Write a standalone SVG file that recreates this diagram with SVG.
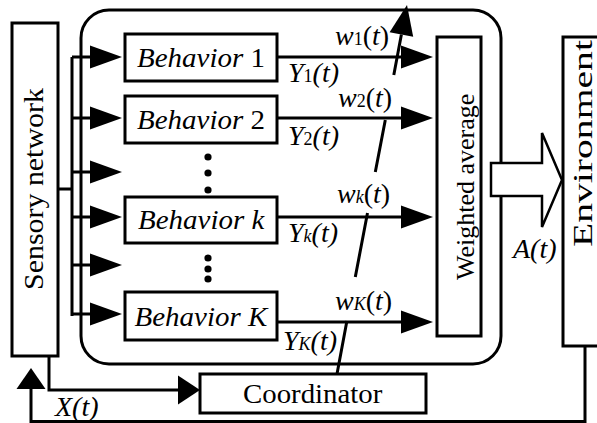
<svg xmlns="http://www.w3.org/2000/svg" width="597" height="423" viewBox="0 0 597 423">
  <defs>
    <!-- long thin arrowhead used on behaviour inputs/outputs (tip at origin, pointing right) -->
    <polygon id="headR" points="0,0 -32,-11.5 -32,11.5" fill="#000"/>
    <!-- short wide arrowhead (tip at origin, pointing right) -->
    <polygon id="headW" points="0,0 -22,-14.5 -22,14.5" fill="#000"/>
  </defs>

  <rect width="597" height="423" fill="#fff"/>

  <g font-family="Liberation Serif" font-size="28" fill="#000">
    <!-- controller enclosure -->
    <g id="controller">
      <rect x="81" y="10" width="420" height="354" rx="28" ry="28" fill="none" stroke="#000" stroke-width="3"/>
    </g>

    <g id="sensory-network">
      <rect x="12" y="23" width="46" height="333" fill="#fff" stroke="#000" stroke-width="3"/>
      <text font-family="Liberation Serif" font-size="28" transform="translate(43,290) rotate(-90) scale(1.069,1)">Sensory network</text>
    </g>

    <g id="behavior-1">
      <rect x="125" y="34" width="152" height="47" fill="#fff" stroke="#000" stroke-width="3"/>
      <text font-family="Liberation Serif" font-size="28" transform="translate(137,67) scale(1.035,1)"><tspan font-style="italic">Behavior</tspan> 1</text>
    </g>
    <g id="behavior-2">
      <rect x="125" y="96" width="152" height="47" fill="#fff" stroke="#000" stroke-width="3"/>
      <text font-family="Liberation Serif" font-size="28" transform="translate(137,129) scale(1.035,1)"><tspan font-style="italic">Behavior</tspan> 2</text>
    </g>
    <g id="behavior-k">
      <rect x="125" y="197" width="152" height="46" fill="#fff" stroke="#000" stroke-width="3"/>
      <text font-family="Liberation Serif" font-size="28" transform="translate(138,229) scale(1.035,1)" font-style="italic">Behavior k</text>
    </g>
    <g id="behavior-K">
      <rect x="125" y="292" width="152" height="48" fill="#fff" stroke="#000" stroke-width="3"/>
      <text font-family="Liberation Serif" font-size="28" transform="translate(134.5,326) scale(1.035,1)" font-style="italic">Behavior K</text>
    </g>

    <!-- vertical ellipses between behaviours -->
    <g id="ellipsis">
      <circle cx="208" cy="157" r="3.6"/>
      <circle cx="208" cy="173" r="3.6"/>
      <circle cx="208" cy="190" r="3.6"/>
      <circle cx="208" cy="258" r="3.6"/>
      <circle cx="208" cy="269" r="3.6"/>
      <circle cx="208" cy="279" r="3.6"/>
    </g>

    <g id="weighted-average">
      <rect x="437" y="37" width="44" height="299" fill="#fff" stroke="#000" stroke-width="3"/>
      <text font-family="Liberation Serif" font-size="26" transform="translate(474,280) rotate(-90)">Weighted average</text>
    </g>

    <g id="environment">
      <rect x="563" y="37" width="60" height="309" fill="#fff" stroke="#000" stroke-width="3"/>
      <text font-family="Liberation Serif" font-size="27" transform="translate(592,247) rotate(-90) scale(1.468,1)">Environment</text>
    </g>

    <g id="coordinator">
      <rect x="200" y="374" width="226" height="39" fill="#fff" stroke="#000" stroke-width="3"/>
      <text font-family="Liberation Serif" font-size="28" transform="translate(243,403) scale(1.03,1)">Coordinator</text>
    </g>

    <g id="connectors" fill="none" stroke="#000" stroke-width="3">
      <!-- sensory bus to behaviours -->
      <path d="M58,189 H72 M72,57 V316 M72,57 H92 M72,118 H92 M72,172 H92 M72,217 H92 M72,265 H92 M72,314 H92"/>
      <use href="#headR" stroke="none" x="122" y="57"/>
      <use href="#headR" stroke="none" x="122" y="118"/>
      <use href="#headR" stroke="none" x="122" y="172"/>
      <use href="#headR" stroke="none" x="122" y="217"/>
      <use href="#headR" stroke="none" x="122" y="265"/>
      <use href="#headR" stroke="none" x="122" y="314"/>

      <!-- behaviour outputs to weighted average -->
      <path d="M277,57 H404 M277,118 H404 M277,217 H404 M277,322 H404"/>
      <use href="#headR" stroke="none" x="433" y="57"/>
      <use href="#headR" stroke="none" x="433" y="118"/>
      <use href="#headR" stroke="none" x="433" y="217"/>
      <use href="#headR" stroke="none" x="433" y="322"/>

      <!-- weight line from coordinator, broken around labels -->
      <path d="M337,374 L346.9,321 M355.3,277 L367.5,213 M375.3,172 L385.3,120 M393.8,75 L401.4,34.5"/>
      <polygon points="407,5 389.6,32.2 413.2,36.7" fill="#000" stroke="none"/>

      <!-- action A(t) -->
      <polygon points="491,163 542,163 542,133 562,180 542,227 542,196 491,196" fill="#fff" stroke-width="2.5"/>

      <!-- sensory network to coordinator -->
      <path d="M49,356 V390 H180"/>
      <use href="#headW" stroke="none" x="200" y="390"/>

      <!-- environment feedback X(t) -->
      <path d="M585,346 V421.5 H31 V386"/>
      <polygon points="31,368 16.5,389 45.5,389" fill="#000" stroke="none"/>
    </g>

    <!-- signal labels -->
    <g id="labels" font-size="28">
      <text font-family="Liberation Serif" x="335" y="45"><tspan font-style="italic">w</tspan><tspan font-size="18">1</tspan>(<tspan font-style="italic">t</tspan>)</text>
      <text font-family="Liberation Serif" x="288" y="82" font-style="italic">Y<tspan font-size="18" font-style="normal">1</tspan>(t)</text>
      <text font-family="Liberation Serif" x="338" y="107"><tspan font-style="italic">w</tspan><tspan font-size="18">2</tspan>(<tspan font-style="italic">t</tspan>)</text>
      <text font-family="Liberation Serif" x="288" y="145" font-style="italic">Y<tspan font-size="18" font-style="normal">2</tspan>(t)</text>
      <text font-family="Liberation Serif" x="337" y="203"><tspan font-style="italic">w</tspan><tspan font-size="18" font-style="italic">k</tspan>(<tspan font-style="italic">t</tspan>)</text>
      <text font-family="Liberation Serif" x="288" y="242" font-style="italic">Y<tspan font-size="18">k</tspan>(t)</text>
      <text font-family="Liberation Serif" x="335" y="310"><tspan font-style="italic">w</tspan><tspan font-size="18" font-style="italic">K</tspan>(<tspan font-style="italic">t</tspan>)</text>
      <text font-family="Liberation Serif" x="283" y="350" font-style="italic">Y<tspan font-size="18">K</tspan>(t)</text>
      <text font-family="Liberation Serif" x="513" y="258" font-style="italic">A(t)</text>
      <text font-family="Liberation Serif" x="55" y="416" font-style="italic">X(t)</text>
    </g>
  </g>
</svg>
